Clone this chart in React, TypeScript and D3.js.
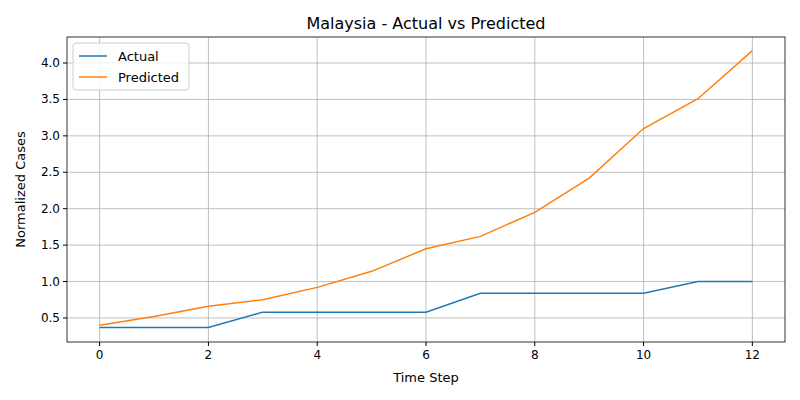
import React, { useEffect, useRef } from 'react';
import * as d3 from 'd3';

const steps = [0, 1, 2, 3, 4, 5, 6, 7, 8, 9, 10, 11, 12];
const actual = [0.37, 0.37, 0.37, 0.58, 0.58, 0.58, 0.58, 0.84, 0.84, 0.84, 0.84, 1.0, 1.0];
const predicted = [0.4, 0.52, 0.66, 0.75, 0.92, 1.14, 1.45, 1.62, 1.95, 2.42, 3.1, 3.51, 4.17];
const xTicks = [0, 2, 4, 6, 8, 10, 12];
const yTicks = [0.5, 1.0, 1.5, 2.0, 2.5, 3.0, 3.5, 4.0];

const App: React.FC = () => {
    const svgRef = useRef<SVGSVGElement>(null);

    useEffect(() => {
        if (!svgRef.current) return;
        const width = 800, height = 400;
        const m = { left: 67, right: 15, top: 37, bottom: 58 };
        const svg = d3.select(svgRef.current);
        svg.selectAll('*').remove();
        svg.append('rect').attr('width', width).attr('height', height).attr('fill', '#fff');

        const x = d3.scaleLinear().domain([-0.6, 12.6]).range([m.left, width - m.right]);
        const y = d3.scaleLinear().domain([0.17, 4.357]).range([height - m.bottom, m.top]);
        const font = 'DejaVu Sans, sans-serif';

        const g = svg.append('g');
        // grid
        xTicks.forEach(t => g.append('line').attr('x1', x(t)).attr('x2', x(t))
            .attr('y1', m.top).attr('y2', height - m.bottom).attr('stroke', '#b0b0b0').attr('stroke-width', 0.8));
        yTicks.forEach(t => g.append('line').attr('y1', y(t)).attr('y2', y(t))
            .attr('x1', m.left).attr('x2', width - m.right).attr('stroke', '#b0b0b0').attr('stroke-width', 0.8));

        const line = d3.line<number>().x((_, i) => x(steps[i])).y(d => y(d));
        g.append('path').datum(actual).attr('d', line).attr('fill', 'none').attr('stroke', '#1f77b4').attr('stroke-width', 1.5);
        g.append('path').datum(predicted).attr('d', line).attr('fill', 'none').attr('stroke', '#ff7f0e').attr('stroke-width', 1.5);

        g.append('rect').attr('x', m.left).attr('y', m.top).attr('width', width - m.left - m.right)
            .attr('height', height - m.top - m.bottom).attr('fill', 'none').attr('stroke', '#000').attr('stroke-width', 0.8);

        xTicks.forEach(t => {
            g.append('line').attr('x1', x(t)).attr('x2', x(t)).attr('y1', height - m.bottom).attr('y2', height - m.bottom + 4).attr('stroke', '#000');
            g.append('text').attr('x', x(t)).attr('y', height - m.bottom + 17).attr('text-anchor', 'middle')
                .style('font-family', font).style('font-size', '12px').text(t);
        });
        yTicks.forEach(t => {
            g.append('line').attr('x1', m.left - 4).attr('x2', m.left).attr('y1', y(t)).attr('y2', y(t)).attr('stroke', '#000');
            g.append('text').attr('x', m.left - 7).attr('y', y(t) + 4).attr('text-anchor', 'end')
                .style('font-family', font).style('font-size', '12px').text(t.toFixed(1));
        });

        g.append('text').attr('x', (m.left + width - m.right) / 2).attr('y', 29).attr('text-anchor', 'middle')
            .style('font-family', font).style('font-size', '16px').text('Malaysia - Actual vs Predicted');
        g.append('text').attr('x', (m.left + width - m.right) / 2).attr('y', 382).attr('text-anchor', 'middle')
            .style('font-family', font).style('font-size', '13px').text('Time Step');
        g.append('text').attr('transform', `translate(25,${(m.top + height - m.bottom) / 2}) rotate(-90)`).attr('text-anchor', 'middle')
            .style('font-family', font).style('font-size', '13px').text('Normalized Cases');

        // legend
        const lg = g.append('g').attr('transform', 'translate(73,43)');
        lg.append('rect').attr('width', 116).attr('height', 47).attr('rx', 3).attr('fill', '#fff').attr('fill-opacity', 0.8).attr('stroke', '#ccc');
        [['Actual', '#1f77b4'], ['Predicted', '#ff7f0e']].forEach(([name, c], i) => {
            const yy = 13 + i * 21;
            lg.append('line').attr('x1', 6).attr('x2', 34).attr('y1', yy).attr('y2', yy).attr('stroke', c).attr('stroke-width', 1.5);
            lg.append('text').attr('x', 45).attr('y', yy + 4.5).style('font-family', font).style('font-size', '13px').text(name);
        });
    }, []);

    return <svg ref={svgRef} width={800} height={400} style={{ position: 'absolute', left: 0, top: 0 }}></svg>;
};

export default App;
